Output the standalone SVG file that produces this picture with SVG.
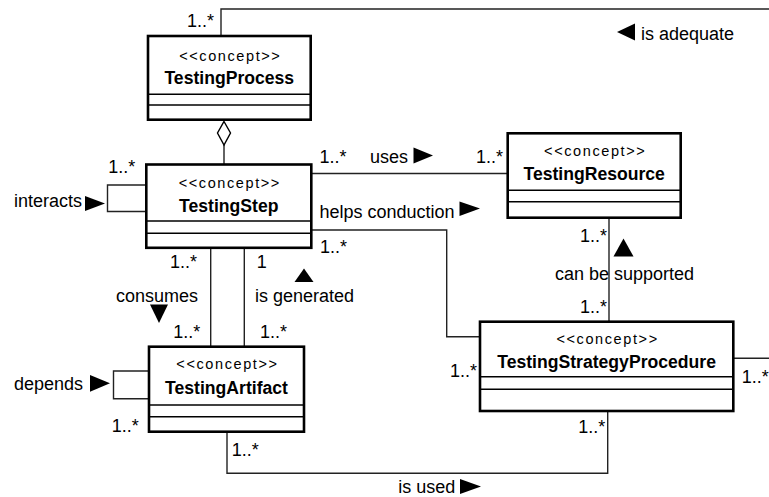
<svg xmlns="http://www.w3.org/2000/svg" width="769" height="497" viewBox="0 0 769 497">
  <style>
    .box { fill: #ffffff; stroke: #000; stroke-width: 2.6; }
    .sep { stroke: #000; stroke-width: 1.5; }
    .stereo { font-family: "Liberation Sans", Arial, sans-serif; font-size: 14.5px; letter-spacing: 1.6px; text-anchor: middle; fill: #000; }
    .name { font-family: "Liberation Sans", Arial, sans-serif; font-size: 17.6px; font-weight: bold; text-anchor: middle; fill: #000; }
    .lbl { font-family: "Liberation Sans", Arial, sans-serif; font-size: 18px; fill: #000; }
    .conn { fill: none; stroke: #222; stroke-width: 1.4; }
    .dir { fill: #000; }
  </style>

  <!-- associations -->
  <g id="connectors">
    <polyline class="conn" points="221,36 221,9 769,9"/>
    <line class="conn" x1="224" y1="145" x2="224" y2="164.5"/>
    <polygon points="224,121.5 230.5,133 224,145 217.5,133" fill="#fff" stroke="#000" stroke-width="1.4"/>
    <polyline class="conn" points="146,185 107.5,185 107.5,211.5 146,211.5"/>
    <line class="conn" x1="311" y1="173.5" x2="507.7" y2="173.5"/>
    <polyline class="conn" points="311,230 446.7,230 446.7,336.7 480,336.7"/>
    <line class="conn" x1="609" y1="217.7" x2="609" y2="321.7"/>
    <line class="conn" x1="733.3" y1="358.3" x2="769" y2="358.3"/>
    <line class="conn" x1="210.7" y1="247.8" x2="210.7" y2="346.7"/>
    <line class="conn" x1="244.3" y1="247.8" x2="244.3" y2="346.7"/>
    <polyline class="conn" points="149,371 113.5,371 113.5,398.7 149,398.7"/>
    <polyline class="conn" points="227,431.7 227,473.3 607.7,473.3 607.7,411"/>

    <!-- multiplicities -->
    <text class="lbl" x="187" y="27">1..*</text>
    <text class="lbl" x="108.3" y="173.3">1..*</text>
    <text class="lbl" x="319.5" y="162.7">1..*</text>
    <text class="lbl" x="476" y="163">1..*</text>
    <text class="lbl" x="320" y="253.3">1..*</text>
    <text class="lbl" x="170" y="268.3">1..*</text>
    <text class="lbl" x="256.7" y="268.3">1</text>
    <text class="lbl" x="173.3" y="338.3">1..*</text>
    <text class="lbl" x="260" y="338.3">1..*</text>
    <text class="lbl" x="111.7" y="431.7">1..*</text>
    <text class="lbl" x="231.7" y="456">1..*</text>
    <text class="lbl" x="580" y="241.7">1..*</text>
    <text class="lbl" x="580" y="313.3">1..*</text>
    <text class="lbl" x="450" y="377.3">1..*</text>
    <text class="lbl" x="741.7" y="383.3">1..*</text>
    <text class="lbl" x="578.3" y="433.3">1..*</text>

    <!-- association names with reading direction -->
    <polygon class="dir" points="617,32 635,23.5 635,40.5"/>
    <text class="lbl" x="641" y="40">is adequate</text>
    <text class="lbl" x="370" y="162.7">uses</text>
    <polygon class="dir" points="413.5,147.5 433,155.5 413.5,163.5"/>
    <text class="lbl" x="319.5" y="217.7">helps conduction</text>
    <polygon class="dir" points="459.5,201.5 480,208.5 459.5,216"/>
    <text class="lbl" x="14" y="206.7">interacts</text>
    <polygon class="dir" points="85,196 105,203.5 85,211"/>
    <polygon class="dir" points="304,268.5 313.5,282 294.5,282"/>
    <text class="lbl" x="255" y="301.7">is generated</text>
    <text class="lbl" x="116" y="301.7">consumes</text>
    <polygon class="dir" points="150,304.5 168,304.5 159,323"/>
    <text class="lbl" x="14" y="390">depends</text>
    <polygon class="dir" points="90,375 110,383.3 90,391.7"/>
    <polygon class="dir" points="623.5,238.5 633.5,256.5 613.5,256.5"/>
    <text class="lbl" x="555" y="280">can be supported</text>
    <text class="lbl" x="398.3" y="493.3">is used</text>
    <polygon class="dir" points="460,479 481,486.5 460,494"/>
  </g>

  <g id="TestingProcess">
    <rect class="box" x="148" y="36" width="162.7" height="83.7"/>
    <line class="sep" x1="148" y1="94.3" x2="310.7" y2="94.3"/>
    <line class="sep" x1="148" y1="105" x2="310.7" y2="105"/>
    <text class="stereo" x="230.3" y="60.5">&lt;&lt;concept&gt;&gt;</text>
    <text class="name" x="229.3" y="84.3">TestingProcess</text>
  </g>

  <g id="TestingStep">
    <rect class="box" x="146.3" y="164.5" width="165" height="83.3"/>
    <line class="sep" x1="146.3" y1="221" x2="311.3" y2="221"/>
    <line class="sep" x1="146.3" y1="233.3" x2="311.3" y2="233.3"/>
    <text class="stereo" x="229.8" y="187.5">&lt;&lt;concept&gt;&gt;</text>
    <text class="name" x="228.8" y="211.5">TestingStep</text>
  </g>

  <g id="TestingResource">
    <rect class="box" x="507.7" y="133.3" width="173" height="84.4"/>
    <line class="sep" x1="507.7" y1="190.3" x2="680.7" y2="190.3"/>
    <line class="sep" x1="507.7" y1="201.7" x2="680.7" y2="201.7"/>
    <text class="stereo" x="595.2" y="156">&lt;&lt;concept&gt;&gt;</text>
    <text class="name" x="594.2" y="180">TestingResource</text>
  </g>

  <g id="TestingArtifact">
    <rect class="box" x="149" y="346.7" width="155" height="85"/>
    <line class="sep" x1="149" y1="405" x2="304" y2="405"/>
    <line class="sep" x1="149" y1="416.7" x2="304" y2="416.7"/>
    <text class="stereo" x="227.5" y="368.5">&lt;&lt;concept&gt;&gt;</text>
    <text class="name" x="226.5" y="394.3">TestingArtifact</text>
  </g>

  <g id="TestingStrategyProcedure">
    <rect class="box" x="480" y="321.7" width="253.3" height="89.3"/>
    <line class="sep" x1="480" y1="376.7" x2="733.3" y2="376.7"/>
    <line class="sep" x1="480" y1="389.3" x2="733.3" y2="389.3"/>
    <text class="stereo" x="607.6" y="344.3">&lt;&lt;concept&gt;&gt;</text>
    <text class="name" x="606.6" y="368.3">TestingStrategyProcedure</text>
  </g>
</svg>
